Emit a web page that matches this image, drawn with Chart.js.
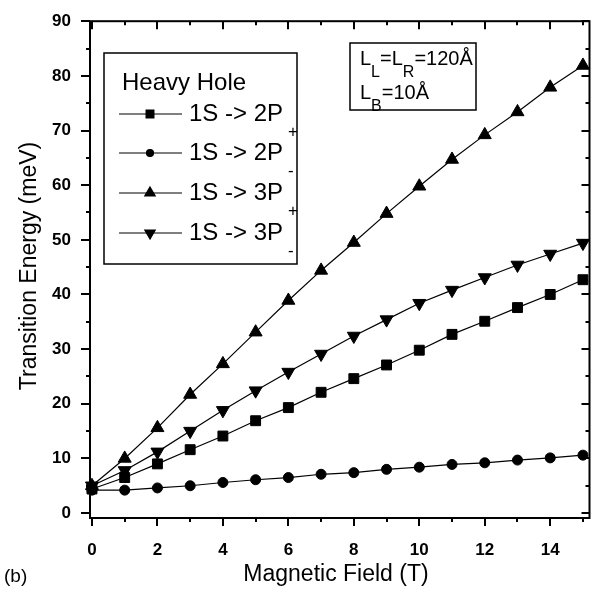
<!DOCTYPE html>
<html>
<head>
<meta charset="utf-8">
<script src="https://cdn.jsdelivr.net/npm/chart.js@4.4.0/dist/chart.umd.min.js"></script>
<style>
  html, body { margin: 0; padding: 0; background: #fff; }
</style>
</head>
<body>
<canvas id="chart" width="598" height="590"></canvas>
<script>
// Data (Heavy Hole transitions vs magnetic field)
const field = [0, 1, 2, 3, 4, 5, 6, 7, 8, 9, 10, 11, 12, 13, 14, 15];
const e2Pplus  = [4.4, 6.5, 9.0, 11.6, 14.1, 16.9, 19.3, 22.1, 24.6, 27.1, 29.8, 32.7, 35.1, 37.6, 40.0, 42.7];
const e2Pminus = [4.2, 4.2, 4.6, 5.0, 5.6, 6.1, 6.5, 7.1, 7.4, 8.0, 8.4, 8.9, 9.2, 9.7, 10.1, 10.6];
const e3Pplus  = [5.0, 10.0, 15.6, 21.7, 27.3, 33.1, 38.9, 44.4, 49.5, 54.8, 59.8, 64.7, 69.2, 73.4, 77.9, 81.9];
const e3Pminus = [5.0, 7.8, 11.2, 15.0, 18.8, 22.4, 25.8, 29.1, 32.4, 35.4, 38.4, 40.8, 43.1, 45.4, 47.4, 49.4];

const seriesNames = ["1S -> 2P", "1S -> 2P", "1S -> 3P", "1S -> 3P"];
const seriesSubs = ["+", "-", "+", "-"];

const xMajor = [0, 2, 4, 6, 8, 10, 12, 14];
const xMinor = [1, 3, 5, 7, 9, 11, 13, 15];
const yMajor = [0, 10, 20, 30, 40, 50, 60, 70, 80, 90];
const yMinor = [5, 15, 25, 35, 45, 55, 65, 75, 85];

const FONT = '"Liberation Sans", Arial, Helvetica, sans-serif';

function pts(ys) {
    return field.map((x, i) => ({ x: x, y: ys[i] }));
}

function series(label, ys, style, radius, rotation) {
    return {
        label: label,
        data: pts(ys),
        borderColor: "#000",
        backgroundColor: "#000",
        borderWidth: 1.2,
        pointStyle: style,
        pointRadius: radius,
        pointRotation: rotation,
        pointBorderWidth: 1,
        pointBorderColor: "#000",
        pointBackgroundColor: "#000",
        tension: 0,
        clip: false
    };
}

const datasets = [
    series(seriesNames[0] + seriesSubs[0], e2Pplus, "rect", 7, 0),
    series(seriesNames[1] + seriesSubs[1], e2Pminus, "circle", 5, 0),
    series(seriesNames[2] + seriesSubs[2], e3Pplus, "triangle", 7.5, 0),
    series(seriesNames[3] + seriesSubs[3], e3Pminus, "triangle", 7.5, 180)
];

// frame, ticks on all four sides, legend box, annotation, titles
const decorPlugin = {
    id: "decor",
    afterDraw(chart) {
        const ctx = chart.ctx;
        const a = chart.chartArea;
        const xs = chart.scales.x;
        const ys = chart.scales.y;
        ctx.save();
        ctx.strokeStyle = "#000";
        ctx.fillStyle = "#000";

        // frame
        ctx.lineWidth = 2;
        ctx.strokeRect(a.left, a.top, a.right - a.left, a.bottom - a.top);

        // ticks
        ctx.beginPath();
        xMajor.forEach(v => {
            const p = Math.round(xs.getPixelForValue(v));
            ctx.moveTo(p, a.bottom); ctx.lineTo(p, a.bottom + 8);
            ctx.moveTo(p, a.top); ctx.lineTo(p, a.top + 8);
        });
        xMinor.forEach(v => {
            const p = Math.round(xs.getPixelForValue(v));
            ctx.moveTo(p, a.bottom); ctx.lineTo(p, a.bottom + 4);
            ctx.moveTo(p, a.top); ctx.lineTo(p, a.top + 4);
        });
        yMajor.forEach(v => {
            const p = Math.round(ys.getPixelForValue(v));
            ctx.moveTo(a.left, p); ctx.lineTo(a.left - 9, p);
            ctx.moveTo(a.right, p); ctx.lineTo(a.right - 8, p);
        });
        yMinor.forEach(v => {
            const p = Math.round(ys.getPixelForValue(v));
            ctx.moveTo(a.left, p); ctx.lineTo(a.left - 4, p);
            ctx.moveTo(a.right, p); ctx.lineTo(a.right - 4, p);
        });
        ctx.stroke();

        // axis titles
        ctx.font = "23px " + FONT;
        ctx.textAlign = "center";
        ctx.textBaseline = "middle";
        ctx.fillText("Magnetic Field (T)", 336, 575);
        ctx.save();
        ctx.translate(30, 266);
        ctx.rotate(-Math.PI / 2);
        ctx.fillText("Transition Energy (meV)", 0, 0);
        ctx.restore();
        ctx.textAlign = "left";
        ctx.font = "19px " + FONT;
        ctx.fillText("(b)", 4, 577);

        // legend
        ctx.lineWidth = 1.5;
        ctx.strokeRect(104, 53, 193, 211);
        ctx.font = "24px " + FONT;
        ctx.fillText("Heavy Hole", 122, 83);
        const rowY = [114, 153, 193, 233];
        chart.data.datasets.forEach((ds, i) => {
            const y = rowY[i];
            ctx.lineWidth = 1.2;
            ctx.beginPath();
            ctx.moveTo(119, y); ctx.lineTo(182, y);
            ctx.stroke();
            Chart.helpers.drawPoint(ctx, {
                pointStyle: ds.pointStyle,
                radius: ds.pointRadius - 1.5,
                rotation: ds.pointRotation,
                borderWidth: 1
            }, 150, y);
            ctx.fill();
            ctx.font = "24px " + FONT;
            ctx.fillText(seriesNames[i], 189, y);
            ctx.font = "17px " + FONT;
            ctx.fillText(seriesSubs[i], 288, y + 18);
        });

        // parameter box
        ctx.lineWidth = 1.5;
        ctx.strokeRect(350, 43, 126, 67);
        const big = "20px " + FONT, small = "16px " + FONT;
        let x = 360;
        const parts1 = [["L", big, 0], ["L", small, 14], ["=L", big, 0], ["R", small, 14], ["=120\u00c5", big, 0]];
        parts1.forEach(p => {
            ctx.font = p[1];
            ctx.fillText(p[0], x, 59 + p[2]);
            x += ctx.measureText(p[0]).width;
        });
        x = 360;
        const parts2 = [["L", big, 0], ["B", small, 14], ["=10\u00c5", big, 0]];
        parts2.forEach(p => {
            ctx.font = p[1];
            ctx.fillText(p[0], x, 93 + p[2]);
            x += ctx.measureText(p[0]).width;
        });

        ctx.restore();
    }
};

new Chart(document.getElementById("chart").getContext("2d"), {
    type: "line",
    data: { datasets: datasets },
    options: {
        responsive: false,
        animation: false,
        devicePixelRatio: 1,
        layout: { padding: { top: 15, right: 7, left: 0, bottom: 0 } },
        plugins: {
            legend: { display: false },
            tooltip: { enabled: false }
        },
        scales: {
            x: {
                type: "linear",
                min: -0.06,
                max: 15.2,
                afterBuildTicks: (s) => { s.ticks = xMajor.map(v => ({ value: v })); },
                afterFit: (s) => { s.height = 72; },
                grid: { display: false },
                border: { display: false },
                ticks: {
                    color: "#000",
                    padding: 14,
                    maxRotation: 0,
                    font: { family: FONT, size: 17, weight: "bold" }
                }
            },
            y: {
                type: "linear",
                min: -0.9,
                max: 90,
                afterBuildTicks: (s) => { s.ticks = yMajor.map(v => ({ value: v })); },
                afterFit: (s) => { s.width = 90; },
                grid: { display: false },
                border: { display: false },
                ticks: {
                    color: "#000",
                    padding: 11,
                    font: { family: FONT, size: 17, weight: "bold" }
                }
            }
        }
    },
    plugins: [decorPlugin]
});
</script>
</body>
</html>
